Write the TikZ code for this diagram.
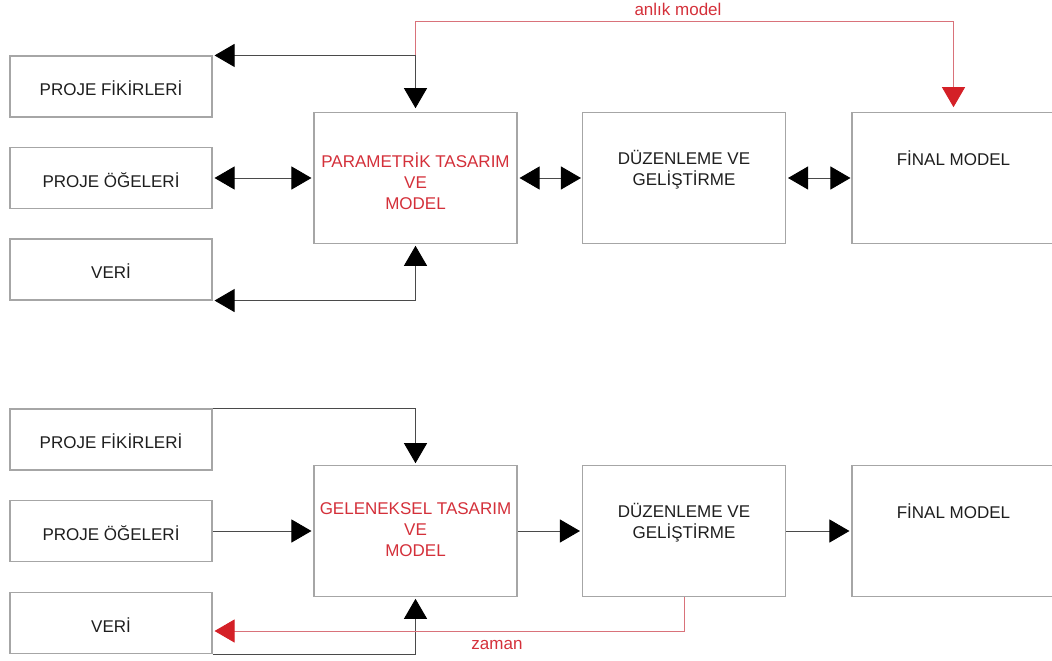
\documentclass[tikz,border=0pt]{standalone}
\usepackage{fontspec}
\setmainfont{Liberation Sans}
\usetikzlibrary{arrows.meta}
\definecolor{boxgray}{HTML}{A6A6A6}
\definecolor{linegray}{HTML}{4A4A4A}
\definecolor{txt}{HTML}{1E1E1E}
\definecolor{redtxt}{HTML}{D4303A}
\definecolor{redline}{HTML}{D9727A}
\definecolor{redtip}{HTML}{D42027}
\tikzset{
  box/.style={draw=boxgray, line width=1.1pt, inner sep=0pt, fill=white},
  smallbox/.style={box, minimum width=202pt, minimum height=61pt},
  bigbox/.style={box, minimum width=203pt, minimum height=130.5pt},
  lbl/.style={inner sep=0pt, align=center, text=txt, font=\fontsize{17}{21}\selectfont},
  redlbl/.style={lbl, text=redtxt},
  conn/.style={draw=linegray, line width=0.9pt},
  tri/.tip={Triangle[length=20pt, width=23pt, color=black]},
  redconn/.style={draw=redline, line width=0.9pt},
  rtri/.tip={Triangle[length=20pt, width=23pt, color=redtip]},
}
\begin{document}
\begin{tikzpicture}[x=1pt, y=-1pt]
\useasboundingbox (0,0) rectangle (1052,661);

% ---------- top diagram ----------
\node[smallbox] (pf1) at (111,86.5) {};
\node[smallbox] (oe1) at (111,178) {};
\node[smallbox] (v1)  at (111,269.5) {};
\node[bigbox] (pm1) at (415.5,178) {};
\node[bigbox] (dz1) at (684,178) {};
\node[bigbox] (fm1) at (953.5,178) {};

\node[lbl] (pf1t) at (111,88) {PROJE FİKİRLERİ};
\node[lbl] (oe1t) at (111,180) {PROJE ÖĞELERİ};
\node[lbl] (v1t)  at (111,271) {VERİ};
\node[redlbl] (pm1t) at (415.5,181) {PARAMETRİK TASARIM\\VE\\MODEL};
\node[lbl] (dz1t) at (684,170) {DÜZENLEME VE\\GELİŞTİRME};
\node[lbl] (fm1t) at (953.5,158.5) {FİNAL MODEL};

\coordinate (j1) at (pf1.north east -| pm1.north);
\coordinate (rtop) at (415.5,21);
\draw[conn, -{tri}, shorten >=2pt] (j1) -- (pf1.north east);
\draw[conn, -{tri}, shorten >=4pt] (j1) -- (pm1.north);
\draw[conn, {tri}-{tri}, shorten <=2pt, shorten >=2pt] (oe1.east) -- (pm1.west);
\draw[conn, {tri}-{tri}, shorten <=2pt, shorten >=1pt] (pm1.east) -- (dz1.west);
\draw[conn, {tri}-{tri}, shorten <=2pt, shorten >=1pt] (dz1.east) -- (fm1.west);
\draw[conn, {tri}-{tri}, shorten <=2pt, shorten >=2pt] (v1.south east) -| (pm1.south);
\draw[redconn, -{rtri}, shorten >=5pt] (j1) -- (rtop) -| (fm1.north);
\node[redlbl] (anlik) at (678,9) {anlık model};

% ---------- bottom diagram ----------
\node[smallbox] (pf2) at (111,439.5) {};
\node[smallbox] (oe2) at (111,531) {};
\node[smallbox] (v2)  at (111,623) {};
\node[bigbox] (gm2) at (415.5,531) {};
\node[bigbox] (dz2) at (684,531) {};
\node[bigbox] (fm2) at (953.5,531) {};

\node[lbl] (pf2t) at (111,441) {PROJE FİKİRLERİ};
\node[lbl] (oe2t) at (111,533) {PROJE ÖĞELERİ};
\node[lbl] (v2t)  at (111,625) {VERİ};
\node[redlbl] (gm2t) at (415.5,530) {GELENEKSEL TASARIM\\VE\\MODEL};
\node[lbl] (dz2t) at (684,523) {DÜZENLEME VE\\GELİŞTİRME};
\node[lbl] (fm2t) at (953.5,511.5) {FİNAL MODEL};

\draw[conn, -{tri}, shorten >=2pt] (pf2.north east) -| (gm2.north);
\draw[conn, -{tri}, shorten >=2pt] (oe2.east) -- (gm2.west);
\draw[conn, -{tri}, shorten >=2pt] (gm2.east) -- (dz2.west);
\draw[conn, -{tri}, shorten >=2pt] (dz2.east) -- (fm2.west);
\draw[conn, -{tri}, shorten >=2pt] (v2.south east) -| (gm2.south);
\coordinate (zc) at (684,631);
\draw[redconn, -{rtri}, shorten >=2pt] (dz2.south) -- (zc) -- (v2.east |- zc);
\node[redlbl] (zaman) at (497,645) {zaman};
\end{tikzpicture}
\end{document}
